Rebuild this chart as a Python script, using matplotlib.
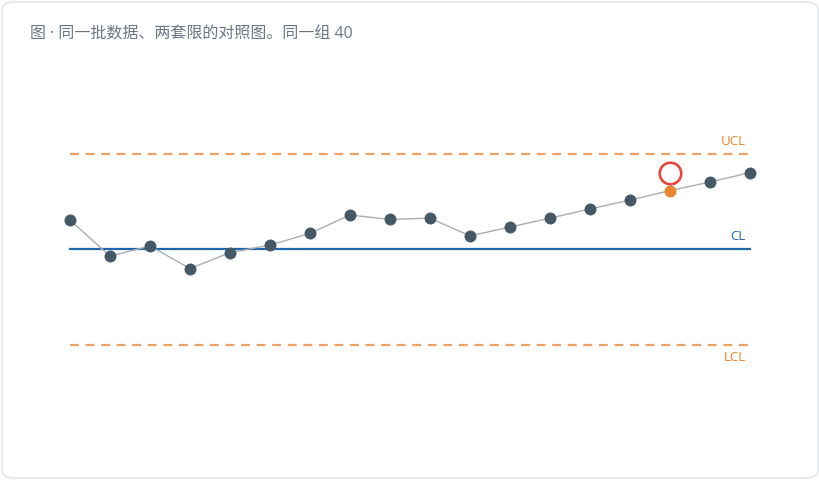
import matplotlib
matplotlib.use("Agg")
import matplotlib.pyplot as plt
from matplotlib.patches import FancyBboxPatch
from matplotlib.transforms import ScaledTranslation

plt.rcParams['font.family'] = ['Noto Sans CJK SC', 'DejaVu Sans']

# data
values = [10.93, 9.79, 10.11, 9.40, 9.90, 10.14, 10.51, 11.09, 10.95, 10.99,
          10.43, 10.71, 10.99, 11.28, 11.56, 11.86, 12.13, 12.43]
cl = 10.0
ucl = 13.0
lcl = 7.0
flagged = [15]
title = "图 · 同一批数据、两套限的对照图。同一组 40"

dot_color = "#455866"
line_color = "#a9aeb4"
cl_color = "#1f67aa"
limit_color = "#f0a264"
limit_text = "#e8832a"
flag_dot = "#e8862f"
ring_color = "#e8453c"

fig = plt.figure(figsize=(8.2, 4.8), dpi=100)

# card background
card = FancyBboxPatch((0.0025, 0.004), 0.995, 0.992,
                      boxstyle="round,pad=0,rounding_size=0.016",
                      transform=fig.transFigure, facecolor="white",
                      edgecolor="#e3e6ec", linewidth=1.2, zorder=-5)
fig.patches.append(card)

ax = fig.add_axes([0, 0, 1, 1])
ax.set_zorder(2)
ax.set_facecolor("none")
ax.axis("off")
n = len(values)
xs = list(range(n))
ax.set_xlim(-1.75, n - 1 + 1.75)
ax.set_ylim(cl - 230.5 / 31.67, cl + 249.5 / 31.67)

ax.plot([0, n - 1], [ucl, ucl], color=limit_color, lw=1.6, dashes=(4, 3), zorder=1)
ax.plot([0, n - 1], [lcl, lcl], color=limit_color, lw=1.6, dashes=(4, 3), zorder=1)
ax.plot([0, n - 1], [cl, cl], color=cl_color, lw=1.6, zorder=1)

ax.plot(xs, values, color=line_color, lw=1.0, zorder=2)
normal = [i for i in xs if i not in flagged]
ax.plot(normal, [values[i] for i in normal], "o", ms=8.6, color=dot_color,
        markeredgewidth=0, zorder=3)
ax.plot(flagged, [values[i] for i in flagged], "o", ms=8.6, color=flag_dot,
        markeredgewidth=0, zorder=3)
ring_tr = ax.transData + ScaledTranslation(0, 18 / 100, fig.dpi_scale_trans)
ax.plot(flagged, [values[i] for i in flagged], "o", ms=15.5, mfc="none",
        mec=ring_color, mew=1.9, transform=ring_tr, zorder=4)

kw = dict(xycoords="data", textcoords="offset points", ha="right",
          fontsize=9.5, family=['Open Sans', 'DejaVu Sans'])
ax.annotate("UCL", (n - 1, ucl), xytext=(-3, 9), va="center", color=limit_text, **kw)
ax.annotate("CL", (n - 1, cl), xytext=(-3, 9), va="center", color=cl_color, **kw)
ax.annotate("LCL", (n - 1, lcl), xytext=(-3, -9.5), va="center", color=limit_text, **kw)

fig.text(30 / 820, 1 - 35 / 480, title, fontsize=11.5, color="#6b7684",
         ha="left", va="center", family=['Open Sans', 'Noto Sans CJK SC'])

fig.savefig("out.png", dpi=100)
